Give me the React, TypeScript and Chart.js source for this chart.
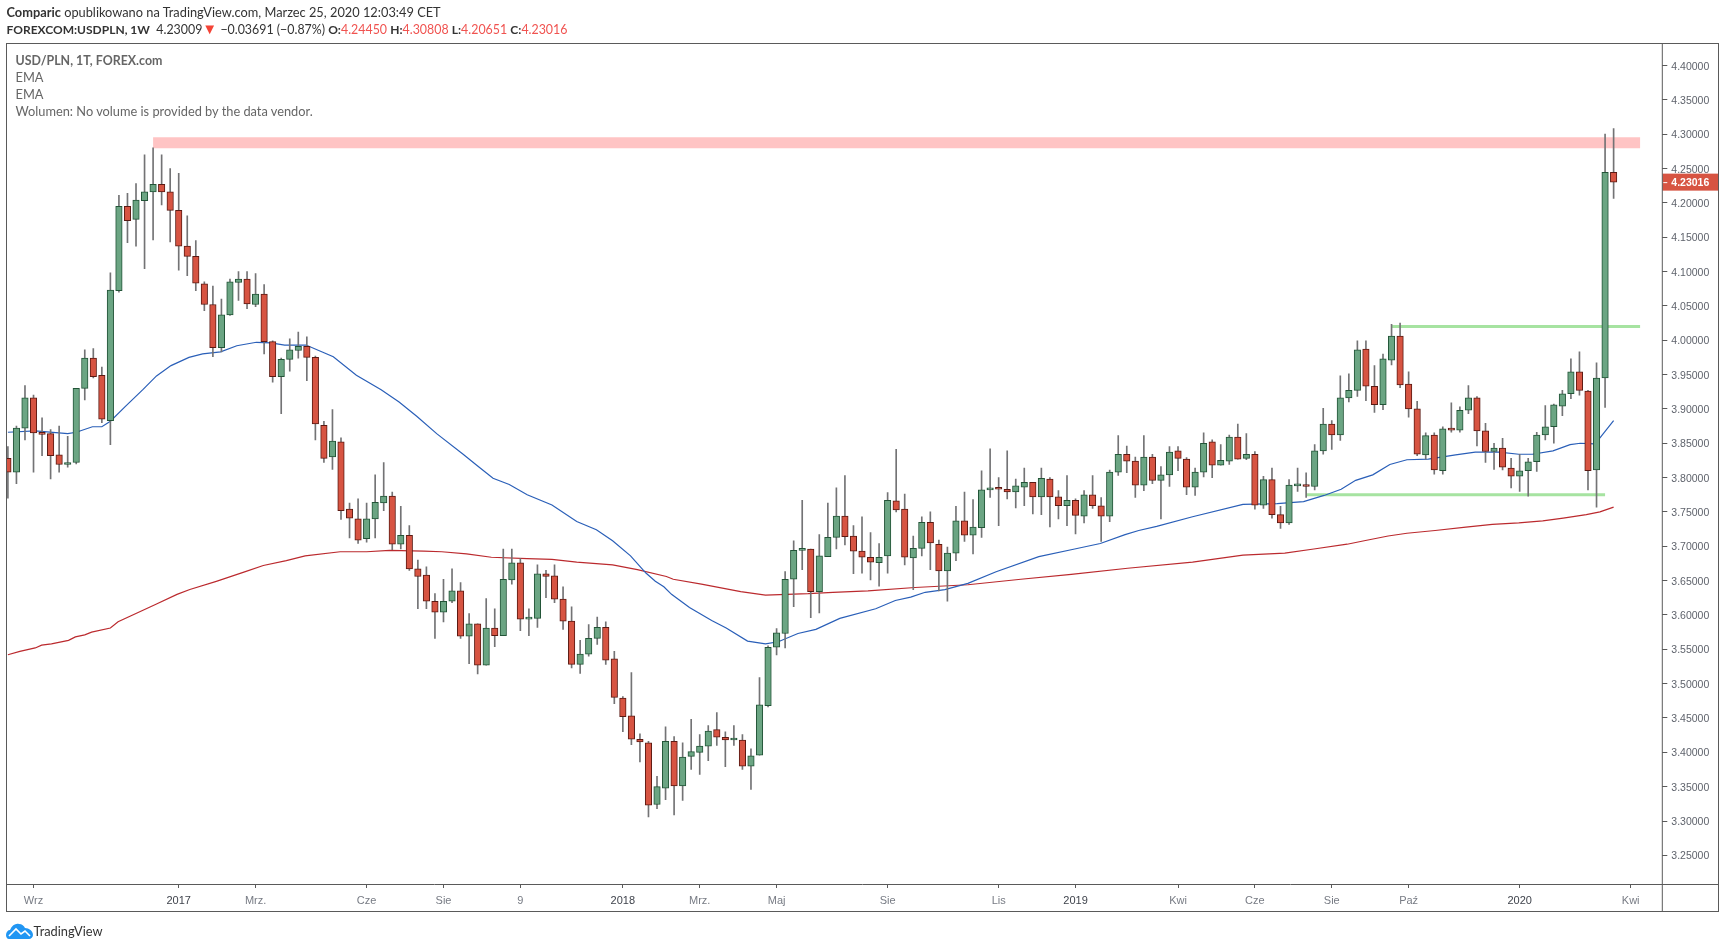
import React, { useEffect, useRef } from 'react';
import { Chart, registerables } from 'chart.js';

Chart.register(...registerables);

const FONT = 'Lato, "Noto Sans", sans-serif';
const AXIS_FONT = '"Liberation Sans", Arial, sans-serif';

// weekly USD/PLN candles
const opens = [
  3.828, 3.808, 3.872, 3.916, 3.865, 3.864, 3.833, 3.819, 3.822, 3.930, 3.974, 3.949, 3.883, 4.072, 4.195, 4.176, 4.203, 4.216, 4.227, 4.216,
  4.189, 4.137, 4.122, 4.082, 4.052, 3.989, 4.037, 4.084, 4.089, 4.052, 4.067, 3.998, 3.947, 3.972, 3.985, 3.991, 3.975, 3.876, 3.830, 3.852,
  3.754, 3.740, 3.711, 3.740, 3.763, 3.773, 3.703, 3.716, 3.667, 3.658, 3.620, 3.604, 3.620, 3.635, 3.569, 3.587, 3.527, 3.581, 3.570, 3.651,
  3.676, 3.594, 3.595, 3.660, 3.657, 3.623, 3.591, 3.528, 3.543, 3.566, 3.582, 3.536, 3.479, 3.453, 3.419, 3.414, 3.324, 3.348, 3.416, 3.351,
  3.394, 3.400, 3.409, 3.433, 3.422, 3.418, 3.418, 3.380, 3.396, 3.468, 3.553, 3.573, 3.652, 3.694, 3.696, 3.634, 3.685, 3.713, 3.744, 3.715,
  3.693, 3.684, 3.676, 3.686, 3.766, 3.754, 3.683, 3.697, 3.735, 3.703, 3.664, 3.690, 3.737, 3.716, 3.727, 3.782, 3.784, 3.783, 3.779, 3.786,
  3.793, 3.772, 3.798, 3.772, 3.759, 3.767, 3.744, 3.775, 3.759, 3.744, 3.808, 3.834, 3.824, 3.789, 3.830, 3.796, 3.804, 3.839, 3.827, 3.786,
  3.808, 3.852, 3.818, 3.824, 3.859, 3.828, 3.834, 3.760, 3.797, 3.746, 3.734, 3.788, 3.789, 3.787, 3.839, 3.878, 3.862, 3.916, 3.927, 3.987,
  3.933, 3.906, 3.971, 4.006, 3.936, 3.900, 3.833, 3.862, 3.810, 3.871, 3.869, 3.898, 3.916, 3.868, 3.838, 3.843, 3.814, 3.802, 3.810, 3.823,
  3.862, 3.874, 3.904, 3.922, 3.954, 3.926, 3.811, 3.945, 4.2445,
];
const highs = [
  3.845, 3.875, 3.934, 3.920, 3.887, 3.870, 3.875, 3.860, 3.930, 3.986, 3.988, 3.961, 4.098, 4.211, 4.214, 4.228, 4.270, 4.280, 4.270, 4.250,
  4.243, 4.181, 4.145, 4.085, 4.079, 4.060, 4.089, 4.100, 4.100, 4.097, 4.081, 3.999, 3.974, 4.002, 4.012, 4.005, 3.977, 3.882, 3.899, 3.858,
  3.763, 3.769, 3.763, 3.804, 3.822, 3.779, 3.758, 3.730, 3.680, 3.670, 3.631, 3.652, 3.667, 3.647, 3.602, 3.587, 3.624, 3.609, 3.696, 3.696,
  3.682, 3.609, 3.673, 3.665, 3.673, 3.641, 3.612, 3.563, 3.586, 3.597, 3.590, 3.547, 3.481, 3.516, 3.427, 3.416, 3.365, 3.437, 3.423, 3.414,
  3.448, 3.426, 3.439, 3.458, 3.430, 3.439, 3.426, 3.405, 3.509, 3.555, 3.580, 3.663, 3.708, 3.767, 3.696, 3.717, 3.763, 3.785, 3.803, 3.730,
  3.743, 3.720, 3.704, 3.778, 3.841, 3.776, 3.715, 3.743, 3.750, 3.709, 3.699, 3.758, 3.779, 3.768, 3.810, 3.842, 3.800, 3.839, 3.798, 3.814,
  3.793, 3.814, 3.800, 3.781, 3.803, 3.769, 3.781, 3.803, 3.771, 3.811, 3.861, 3.846, 3.830, 3.861, 3.834, 3.816, 3.845, 3.845, 3.829, 3.814,
  3.865, 3.855, 3.848, 3.862, 3.878, 3.864, 3.838, 3.802, 3.814, 3.758, 3.797, 3.814, 3.807, 3.848, 3.901, 3.883, 3.948, 3.951, 3.999, 3.999,
  3.963, 3.980, 4.023, 4.025, 3.954, 3.911, 3.865, 3.865, 3.874, 3.909, 3.903, 3.934, 3.918, 3.879, 3.850, 3.857, 3.828, 3.834, 3.828, 3.866,
  3.905, 3.907, 3.927, 3.973, 3.983, 3.927, 3.967, 4.300, 4.30808,
];
const lows = [
  3.770, 3.791, 3.855, 3.808, 3.832, 3.798, 3.808, 3.815, 3.820, 3.913, 3.945, 3.880, 3.848, 4.070, 4.142, 4.137, 4.104, 4.146, 4.197, 4.143,
  4.102, 4.094, 4.072, 4.043, 3.976, 3.983, 4.036, 4.058, 4.046, 4.049, 3.980, 3.939, 3.893, 3.955, 3.974, 3.941, 3.855, 3.822, 3.812, 3.739,
  3.712, 3.704, 3.706, 3.712, 3.752, 3.695, 3.696, 3.665, 3.609, 3.609, 3.566, 3.590, 3.618, 3.566, 3.529, 3.514, 3.527, 3.554, 3.570, 3.645,
  3.577, 3.570, 3.582, 3.625, 3.618, 3.579, 3.523, 3.515, 3.540, 3.557, 3.528, 3.471, 3.430, 3.411, 3.386, 3.306, 3.318, 3.331, 3.309, 3.330,
  3.375, 3.368, 3.388, 3.410, 3.379, 3.410, 3.375, 3.346, 3.396, 3.466, 3.542, 3.552, 3.612, 3.666, 3.596, 3.603, 3.685, 3.696, 3.702, 3.660,
  3.661, 3.651, 3.642, 3.661, 3.750, 3.673, 3.637, 3.686, 3.666, 3.635, 3.620, 3.679, 3.707, 3.689, 3.713, 3.771, 3.730, 3.769, 3.756, 3.759,
  3.747, 3.746, 3.728, 3.740, 3.730, 3.718, 3.734, 3.755, 3.707, 3.736, 3.803, 3.807, 3.771, 3.781, 3.791, 3.740, 3.787, 3.810, 3.775, 3.774,
  3.801, 3.800, 3.818, 3.819, 3.827, 3.826, 3.754, 3.755, 3.741, 3.726, 3.732, 3.780, 3.771, 3.782, 3.834, 3.841, 3.854, 3.910, 3.918, 3.912,
  3.895, 3.899, 3.964, 3.931, 3.888, 3.832, 3.827, 3.805, 3.805, 3.866, 3.866, 3.893, 3.846, 3.822, 3.812, 3.811, 3.785, 3.780, 3.773, 3.809,
  3.855, 3.850, 3.890, 3.915, 3.920, 3.782, 3.757, 3.902, 4.20651,
];
const closes = [
  3.808, 3.872, 3.916, 3.865, 3.863, 3.832, 3.819, 3.821, 3.930, 3.974, 3.947, 3.885, 4.073, 4.195, 4.174, 4.204, 4.216, 4.227, 4.216, 4.189,
  4.137, 4.122, 4.083, 4.052, 3.989, 4.037, 4.085, 4.089, 4.053, 4.067, 3.998, 3.947, 3.972, 3.986, 3.991, 3.975, 3.878, 3.828, 3.853, 3.752,
  3.741, 3.709, 3.740, 3.764, 3.773, 3.703, 3.716, 3.667, 3.656, 3.620, 3.604, 3.620, 3.635, 3.569, 3.587, 3.527, 3.581, 3.570, 3.652, 3.676,
  3.594, 3.595, 3.660, 3.656, 3.623, 3.591, 3.528, 3.543, 3.566, 3.582, 3.534, 3.480, 3.452, 3.419, 3.415, 3.323, 3.350, 3.416, 3.351, 3.393,
  3.401, 3.409, 3.431, 3.422, 3.418, 3.420, 3.380, 3.395, 3.469, 3.553, 3.574, 3.652, 3.694, 3.696, 3.634, 3.686, 3.713, 3.744, 3.714, 3.693,
  3.684, 3.677, 3.684, 3.767, 3.753, 3.684, 3.697, 3.735, 3.705, 3.664, 3.690, 3.737, 3.716, 3.728, 3.782, 3.783, 3.783, 3.779, 3.788, 3.793,
  3.772, 3.799, 3.772, 3.759, 3.767, 3.745, 3.775, 3.759, 3.744, 3.808, 3.834, 3.824, 3.789, 3.830, 3.796, 3.804, 3.837, 3.828, 3.786, 3.808,
  3.850, 3.818, 3.825, 3.859, 3.827, 3.834, 3.760, 3.797, 3.746, 3.734, 3.789, 3.789, 3.787, 3.839, 3.878, 3.862, 3.916, 3.927, 3.986, 3.933,
  3.906, 3.973, 4.006, 3.935, 3.900, 3.834, 3.861, 3.811, 3.871, 3.869, 3.898, 3.916, 3.868, 3.838, 3.843, 3.815, 3.802, 3.810, 3.823, 3.862,
  3.874, 3.906, 3.922, 3.954, 3.927, 3.810, 3.945, 4.2445, 4.23016,
];

// the two moving averages, sampled by eye: candle position and level
const emaFastX = [0, 3.2, 7, 8, 9.9, 11, 12, 13.7, 15.8, 17.4, 19.1, 21.2, 22.8, 24.9, 26.8, 29.1, 30.8, 32.4, 34.9, 36.6, 38.1, 40.8, 43.7, 45.8, 47.9, 50.2, 53.3, 55, 56.8, 58.7, 60.8, 63.7, 66.6, 68.9, 70.8, 72.9, 74.7, 75.8, 76.8, 77.7, 79.8, 82.4, 84.1, 86.6, 88.7, 90.2, 92.5, 94.6, 97.4, 101.6, 103.9, 105.7, 107.4, 109.7, 112.4, 115.7, 120.7, 124.9, 127.9, 130.8, 132.4, 134.5, 138.7, 144.6, 148.6, 151.7, 154.1, 156.1, 157.8, 159.8, 161.8, 163.8, 166.3, 169.5, 171.8, 174.6, 176.9, 178.5, 180.9, 182.9, 184.1, 185.7, 186.4, 188];
const emaFast = [3.866, 3.868, 3.864, 3.866, 3.874, 3.874, 3.882, 3.903, 3.928, 3.948, 3.963, 3.975, 3.980, 3.983, 3.992, 3.997, 3.996, 3.993, 3.993, 3.984, 3.976, 3.949, 3.928, 3.910, 3.889, 3.864, 3.834, 3.817, 3.799, 3.790, 3.775, 3.760, 3.736, 3.724, 3.708, 3.686, 3.661, 3.649, 3.641, 3.630, 3.611, 3.592, 3.581, 3.562, 3.558, 3.561, 3.573, 3.579, 3.595, 3.609, 3.621, 3.626, 3.633, 3.637, 3.646, 3.663, 3.685, 3.696, 3.704, 3.717, 3.723, 3.729, 3.743, 3.761, 3.762, 3.765, 3.774, 3.783, 3.796, 3.804, 3.819, 3.826, 3.827, 3.833, 3.837, 3.837, 3.834, 3.834, 3.839, 3.848, 3.850, 3.849, 3.858, 3.883];
const emaSlowX = [0, 1.4, 3.2, 3.95, 5.1, 7.1, 7.9, 9, 9.8, 12, 12.9, 15.5, 17.4, 19.8, 21.3, 24.4, 27.8, 29.9, 32.6, 34.8, 38.9, 42, 44.7, 48.7, 50.8, 53.7, 56.6, 60.8, 63.7, 66.6, 70.8, 73.7, 77.1, 77.9, 81.2, 85.8, 88.7, 93.7, 96.6, 100.7, 106.2, 112.4, 118.6, 124.5, 131.1, 138.7, 144.6, 149.5, 152.9, 156.8, 158.8, 161.6, 163.8, 167.1, 170.7, 173.8, 176.9, 179.7, 182.1, 184.8, 186.4, 188];
const emaSlow = [3.542, 3.547, 3.552, 3.556, 3.558, 3.563, 3.568, 3.571, 3.575, 3.581, 3.590, 3.605, 3.616, 3.630, 3.637, 3.649, 3.663, 3.672, 3.679, 3.686, 3.692, 3.692, 3.694, 3.693, 3.692, 3.689, 3.684, 3.682, 3.681, 3.677, 3.673, 3.666, 3.656, 3.652, 3.645, 3.634, 3.629, 3.631, 3.633, 3.635, 3.640, 3.644, 3.652, 3.659, 3.668, 3.677, 3.687, 3.690, 3.696, 3.703, 3.708, 3.715, 3.719, 3.723, 3.728, 3.732, 3.734, 3.737, 3.741, 3.746, 3.750, 3.757];

// hand-drawn levels: first and last candle position, price
const resistanceZone = { from: 17, to: 191.1, price: 4.2876 };
const upperLevel = { from: 162, to: 191.1, price: 4.02 };
const lowerLevel = { from: 152, to: 187, price: 3.775 };

const xTickPositions = [3, 20, 29, 42, 51, 60, 72, 81, 90, 103, 116, 125, 137, 146, 155, 164, 177, 190];
const xTickLabels = ['Wrz', '2017', 'Mrz.', 'Cze', 'Sie', '9', '2018', 'Mrz.', 'Maj', 'Sie', 'Lis', '2019', 'Kwi', 'Cze', 'Sie', 'Paź', '2020', 'Kwi'];
const yTickValues = [3.25, 3.3, 3.35, 3.4, 3.45, 3.5, 3.55, 3.6, 3.65, 3.7, 3.75, 3.8, 3.85, 3.9, 3.95, 4.0, 4.05, 4.1, 4.15, 4.2, 4.25, 4.3, 4.35, 4.4];
const lastPrice = 4.23016;

const UP = '#6ba583';
const UP_EDGE = '#225437';
const DOWN = '#d75442';
const DOWN_EDGE = '#5b1a13';
const WICK = '#737375';
const LINE = '#5a5a5a';

const frame = {
  id: 'frame',
  afterDraw(chart: Chart) {
    const { ctx, chartArea, scales } = chart;
    const y = scales.y.getPixelForValue(lastPrice);
    ctx.save();
    ctx.fillStyle = DOWN;
    ctx.fillRect(chartArea.right, y - 8.5, 56, 17);
    ctx.fillStyle = '#fff';
    ctx.fillRect(chartArea.right + 1, y, 4, 1);
    ctx.font = 'bold 10.5px ' + AXIS_FONT;
    ctx.textBaseline = 'middle';
    ctx.fillText(lastPrice.toFixed(5), chartArea.right + 9, y + 1);
    ctx.strokeStyle = LINE;
    ctx.lineWidth = 1;
    ctx.strokeRect(6.5, 43.5, 1712, 868);
    ctx.beginPath();
    ctx.moveTo(chartArea.right, 43.5);
    ctx.lineTo(chartArea.right, 911.5);
    ctx.moveTo(6.5, chartArea.bottom + 0.5);
    ctx.lineTo(1718.5, chartArea.bottom + 0.5);
    ctx.stroke();
    ctx.restore();
  },
};

function levelLine(level: { from: number; to: number; price: number }, color: string, width: number) {
  return {
    type: 'line' as const,
    data: [{ x: level.from, y: level.price }, { x: level.to, y: level.price }],
    borderColor: color,
    borderWidth: width,
    borderCapStyle: 'butt' as const,
    pointRadius: 0,
    order: 4,
  };
}

const isYear = (ctx: any) => !!ctx.tick && /^\d{4}$/.test(String(ctx.tick.label));

function CandleChart() {
  const canvasRef = useRef<HTMLCanvasElement>(null);

  useEffect(() => {
    if (!canvasRef.current) return;
    const isUp = closes.map((c, i) => c >= opens[i]);
    const chart = new Chart(canvasRef.current, {
      type: 'bar',
      plugins: [frame],
      data: {
        datasets: [
          {
            data: opens.map((o, i) => ({ x: i, y: [o, closes[i]] })),
            backgroundColor: isUp.map((u) => (u ? UP : DOWN)),
            borderColor: isUp.map((u) => (u ? UP_EDGE : DOWN_EDGE)),
            borderWidth: 1,
            borderSkipped: false,
            barThickness: 6.5,
            minBarLength: 2,
            grouped: false,
            order: 1,
          },
          {
            data: highs.map((h, i) => ({ x: i, y: [lows[i], h] })),
            backgroundColor: WICK,
            barThickness: 1,
            grouped: false,
            order: 2,
          },
          {
            type: 'line',
            data: emaFast.map((v, i) => ({ x: emaFastX[i], y: v })),
            borderColor: '#2a5fb8',
            borderWidth: 1.2,
            pointRadius: 0,
            order: 3,
          },
          {
            type: 'line',
            data: emaSlow.map((v, i) => ({ x: emaSlowX[i], y: v })),
            borderColor: '#bb2a2e',
            borderWidth: 1.2,
            pointRadius: 0,
            order: 3,
          },
          levelLine(resistanceZone, '#ffc4c4', 11),
          levelLine(upperLevel, '#a6e3a1', 3),
          levelLine(lowerLevel, '#a6e3a1', 3),
        ] as any,
      },
      options: {
        responsive: false,
        animation: false,
        layout: { padding: { left: 6.7, top: 43.5, right: 6.7, bottom: 37 } },
        plugins: { legend: { display: false }, tooltip: { enabled: false } },
        scales: {
          x: {
            type: 'linear',
            offset: false,
            min: -0.14,
            max: 193.7,
            afterBuildTicks: (scale) => {
              scale.ticks = xTickPositions.map((value) => ({ value }));
            },
            afterFit: (scale) => {
              scale.height = 27;
            },
            grid: { offset: false, drawOnChartArea: false, tickLength: 4, tickColor: LINE },
            border: { display: false },
            ticks: {
              autoSkip: false,
              maxRotation: 0,
              padding: 6,
              color: (ctx) => (isYear(ctx) ? '#3f434c' : '#777b84'),
              font: { family: AXIS_FONT, size: 11 },
              callback: (value) => xTickLabels[xTickPositions.indexOf(Number(value))],
            },
          },
          y: {
            position: 'right',
            min: 3.2083,
            max: 4.432,
            afterBuildTicks: (scale) => {
              scale.ticks = yTickValues.map((value) => ({ value }));
            },
            afterFit: (scale) => {
              scale.width = 56;
            },
            grid: { drawOnChartArea: false, tickLength: 5, tickColor: LINE },
            border: { display: false },
            ticks: {
              padding: 4,
              labelOffset: 1.2,
              color: '#5f636c',
              font: { family: AXIS_FONT, size: 10.5 },
              callback: (value) => Number(value).toFixed(5),
            },
          },
        },
      },
    });
    return () => chart.destroy();
  }, []);

  return <canvas ref={canvasRef} width={1725} height={948} style={{ position: 'absolute', left: 0, top: 0 }} />;
}

const legendLine: React.CSSProperties = { position: 'absolute', left: 15.5, color: '#666', whiteSpace: 'nowrap', lineHeight: '17px' };
const redValue: React.CSSProperties = { color: '#f05350' };
const boldLabel: React.CSSProperties = { fontSize: 12 };

export default function App() {
  return (
    <div style={{ position: 'absolute', left: 0, top: 0, width: 1725, height: 948, background: '#fff', overflow: 'hidden', fontFamily: FONT, fontSize: 12.8 }}>
      <CandleChart />
      <div style={{ position: 'absolute', left: 6.5, top: 4, color: '#333', whiteSpace: 'nowrap', lineHeight: '17px' }}>
        <b>Comparic</b> opublikowano na TradingView.com, Marzec 25, 2020 12:03:49 CET
      </div>
      <div style={{ position: 'absolute', left: 6.5, top: 21, color: '#333', whiteSpace: 'nowrap', lineHeight: '17px', fontSize: 12.4 }}>
        <b style={boldLabel}>FOREXCOM:USDPLN, 1W</b>&nbsp; 4.23009<span style={{ color: '#f44336', fontSize: 15, lineHeight: '15px' }}>▼</span> −0.03691 (−0.87%) <b style={boldLabel}>O:</b><span style={redValue}>4.24450</span> <b style={boldLabel}>H:</b><span style={redValue}>4.30808</span> <b style={boldLabel}>L:</b><span style={redValue}>4.20651</span> <b style={boldLabel}>C:</b><span style={redValue}>4.23016</span>
      </div>
      <div style={{ ...legendLine, top: 52, fontWeight: 700, fontSize: 12.4 }}>USD/PLN, 1T, FOREX.com</div>
      <div style={{ ...legendLine, top: 69 }}>EMA</div>
      <div style={{ ...legendLine, top: 86 }}>EMA</div>
      <div style={{ ...legendLine, top: 103 }}>Wolumen: No volume is provided by the data vendor.</div>
      <svg width="27" height="16" viewBox="0 0 27 16" style={{ position: 'absolute', left: 6, top: 923 }}>
        <path d="M0 12 C0 9 2 7 4 7 C6 2 10 0 13 1 C16 1 18 3 19 5 C23 5 27 8 27 12 C27 14 25 16 23 16 L3 16 C1 16 0 14 0 12 Z" fill="#2196f3" />
        <path d="M3 13 L10 6 L15 11 L19 8 L24 13" fill="none" stroke="#fff" strokeWidth="1.6" />
      </svg>
      <div style={{ position: 'absolute', left: 33.5, top: 923, color: '#333', whiteSpace: 'nowrap', lineHeight: '17px' }}>TradingView</div>
    </div>
  );
}
